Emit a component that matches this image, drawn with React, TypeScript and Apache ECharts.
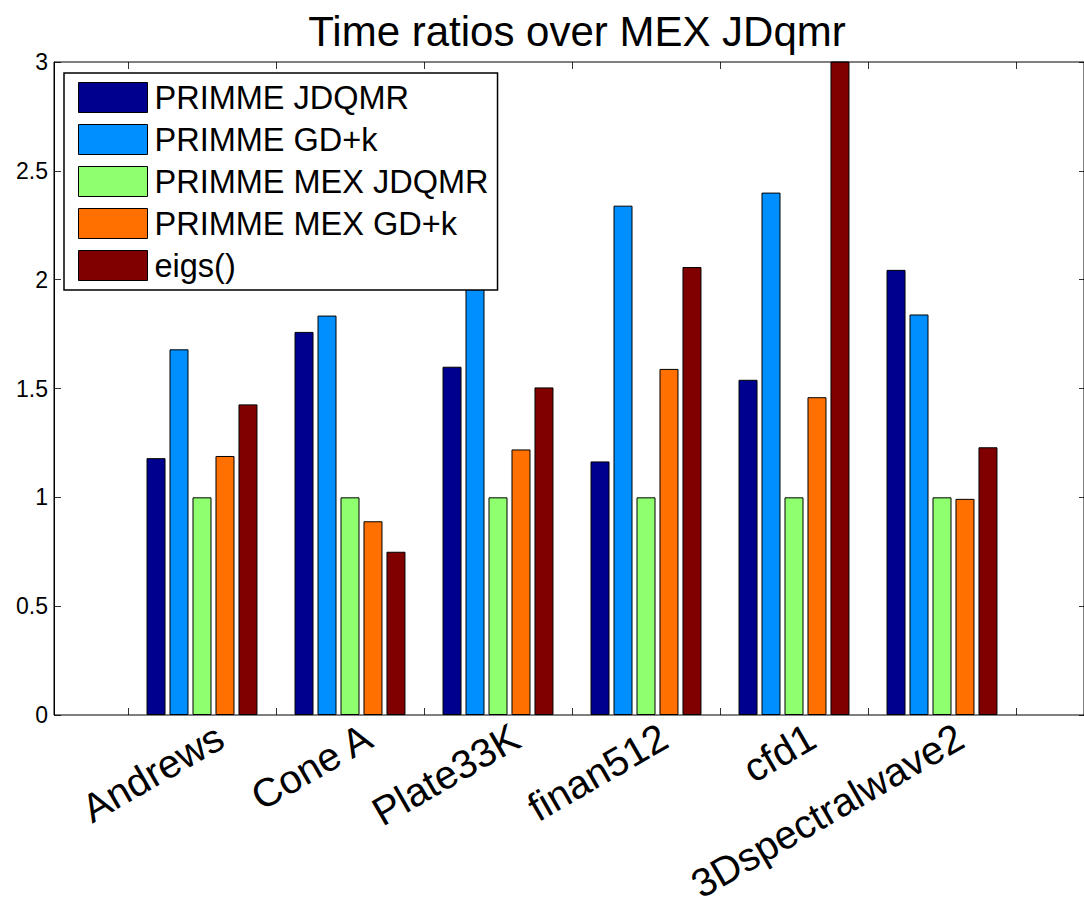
import React, { useEffect, useRef } from "react";
import * as echarts from "echarts";

const categories = ["Andrews", "Cone A", "Plate33K", "finan512", "cfd1", "3Dspectralwave2"];
const seriesNames = ["PRIMME JDQMR", "PRIMME GD+k", "PRIMME MEX JDQMR", "PRIMME MEX GD+k", "eigs()"];
const primmeJdqmr = [1.18, 1.76, 1.6, 1.165, 1.54, 2.045];
const primmeGdk = [1.68, 1.835, 2.25, 2.34, 2.4, 1.84];
const mexJdqmr = [1.0, 1.0, 1.0, 1.0, 1.0, 1.0];
const mexGdk = [1.19, 0.89, 1.22, 1.59, 1.46, 0.993];
const eigs = [1.427, 0.75, 1.505, 2.058, 3.2, 1.23];
const yTicks = [0, 0.5, 1, 1.5, 2, 2.5, 3];
const colors = ["#00008F", "#008FFF", "#8FFF70", "#FF7000", "#800000"];

const FONT = "Liberation Sans, Arial, Helvetica, sans-serif";

export default function App() {
  const ref = useRef<HTMLDivElement>(null);
  useEffect(() => {
    document.body.style.margin = "0";
    if (!ref.current) return;
    const chart = echarts.init(ref.current, undefined, { renderer: "svg" });
    const values = [primmeJdqmr, primmeGdk, mexJdqmr, mexGdk, eigs];
    const plotTop = 62, plotBottom = 715;
    const bandLeft = 128, bandWidth = 888;
    const labelShift = 18;
    const option: any = {
      animation: false,
      backgroundColor: "#fff",
      textStyle: { fontFamily: FONT },
      title: {
        text: "Time ratios over MEX JDqmr",
        left: 572,
        textAlign: "center",
        top: 5,
        textStyle: { fontSize: 42, fontWeight: "normal", color: "#000", fontFamily: FONT },
      },
      legend: {
        orient: "vertical",
        left: 64,
        top: 73,
        data: seriesNames,
        itemWidth: 69,
        itemHeight: 30,
        itemGap: 9,
        padding: [8, 9, 8, 14],
        backgroundColor: "#fff",
        borderColor: "#000",
        borderWidth: 1.5,
        borderRadius: 0,
        icon: "rect",
        itemStyle: { borderColor: "#000", borderWidth: 1 },
        textStyle: { fontSize: 32.5, color: "#000", fontFamily: FONT, padding: [0, 0, 0, 2] },
        z: 10,
      },
      grid: [
        { left: bandLeft, width: bandWidth, top: plotTop, height: plotBottom - plotTop },
        { left: 54, width: 1031, top: plotTop, height: plotBottom - plotTop, show: true, borderColor: "#000", borderWidth: 1, z: 5 },
        { left: bandLeft + labelShift, width: bandWidth, top: plotTop, height: plotBottom - plotTop },
      ],
      xAxis: [
        {
          type: "category", gridIndex: 0, data: categories, position: "bottom",
          axisLine: { show: false }, axisLabel: { show: false },
          axisTick: { show: true, inside: true, length: 7, lineStyle: { color: "#333" } },
        },
        {
          type: "category", gridIndex: 0, data: categories, position: "top",
          axisLine: { show: false }, axisLabel: { show: false },
          axisTick: { show: true, inside: true, length: 7, lineStyle: { color: "#333" } },
        },
        { type: "value", gridIndex: 1, min: 0, max: 1, show: false },
        {
          type: "category", gridIndex: 2, data: categories, position: "bottom",
          axisLine: { show: false }, axisTick: { show: false },
          axisLabel: { show: true, rotate: 30, margin: 24, fontSize: 40, color: "#000", fontFamily: FONT, interval: 0 },
        },
      ],
      yAxis: [
        { type: "value", gridIndex: 0, min: 0, max: 3, show: false },
        {
          type: "value", gridIndex: 1, min: 0, max: 3, interval: 0.5, position: "left",
          axisLine: { show: true, lineStyle: { color: "#000" } },
          splitLine: { show: false },
          axisTick: { show: true, inside: true, length: 7, lineStyle: { color: "#333" } },
          axisLabel: {
            show: true, fontSize: 23, color: "#000", margin: 6, fontFamily: FONT,
            customValues: yTicks,
            formatter: (v: number) => String(v),
          },
        },
        {
          type: "value", gridIndex: 1, min: 0, max: 3, interval: 0.5, position: "right",
          axisLine: { show: false }, splitLine: { show: false },
          axisTick: { show: true, inside: true, length: 5, lineStyle: { color: "#333" } },
          axisLabel: { show: false },
        },
        { type: "value", gridIndex: 2, min: 0, max: 3, show: false },
      ],
      series: seriesNames.map((name, i) => ({
        name,
        type: "bar",
        xAxisIndex: 0,
        yAxisIndex: 0,
        data: values[i],
        barWidth: 19,
        barGap: "21%",
        clip: true,
        itemStyle: { color: colors[i], borderColor: "#000", borderWidth: 1 },
        z: 3,
      })),
    };
    chart.setOption(option);
    return () => chart.dispose();
  }, []);
  return <div ref={ref} style={{ width: 1084, height: 906 }} />;
}
